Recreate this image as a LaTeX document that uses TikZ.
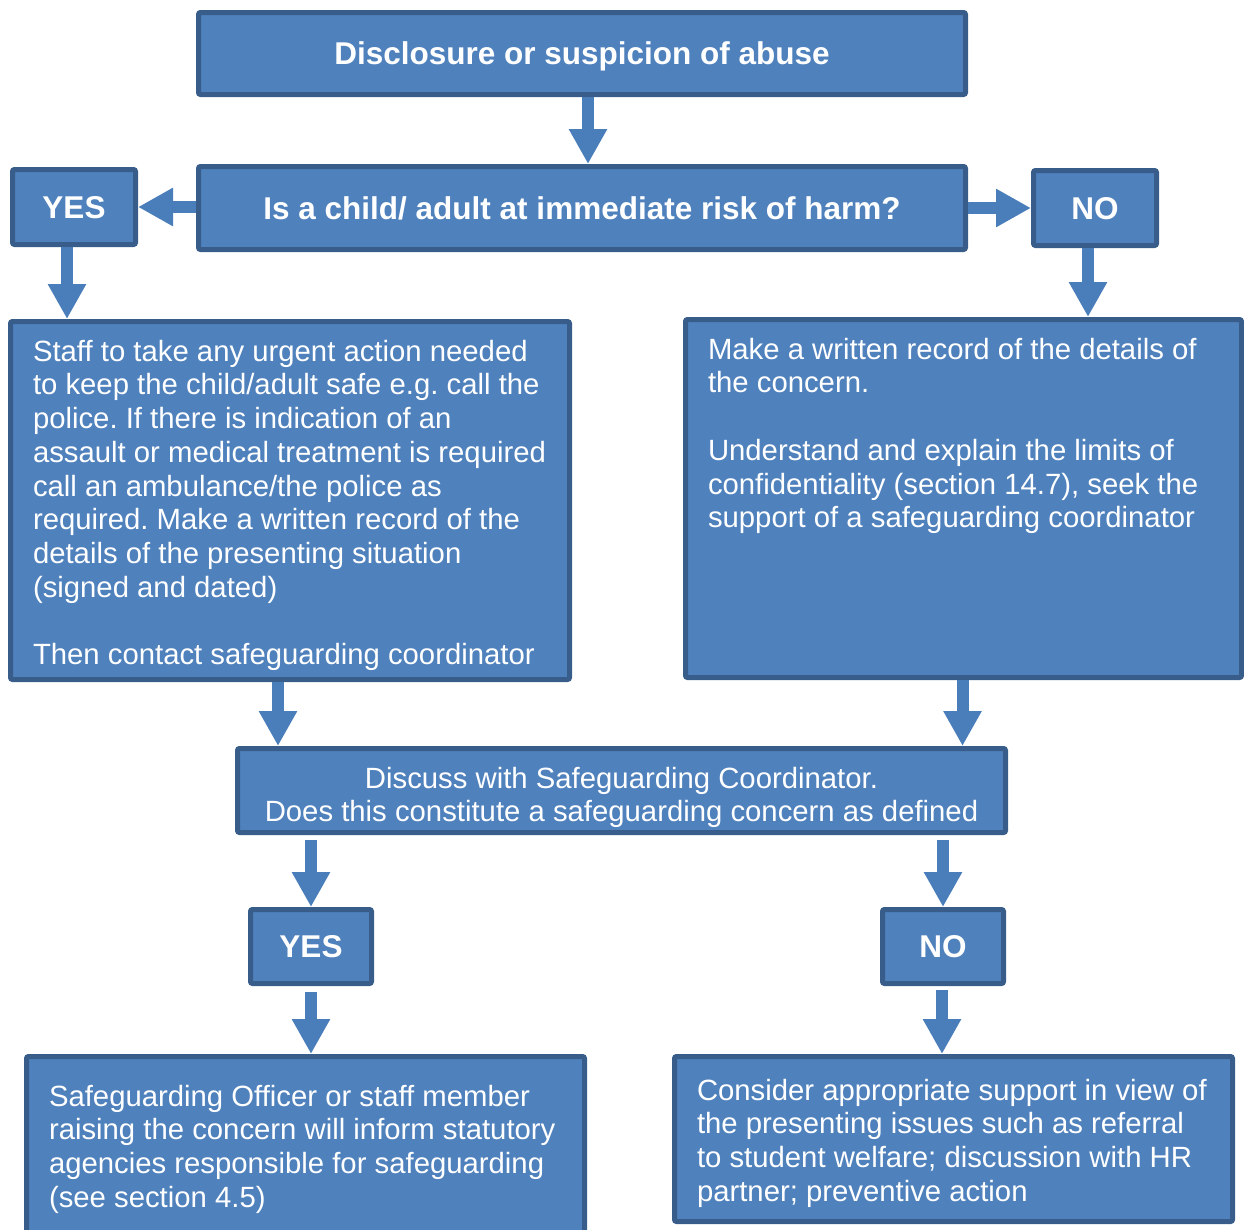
\documentclass[tikz,border=0pt]{standalone}
\usepackage{fontspec}
\setmainfont{Liberation Sans}
\usepackage{tikz}
\usetikzlibrary{arrows.meta}

\definecolor{boxfill}{HTML}{4F81BD}
\definecolor{boxline}{HTML}{385D8A}
\definecolor{arrowblue}{HTML}{4A7EBB}

\newcommand{\bodyfont}{\fontsize{29.3}{33.7}\selectfont\frenchspacing}
\newcommand{\headfont}{\fontsize{31.5}{36}\selectfont\bfseries}

\begin{document}
\begin{tikzpicture}[x=1pt, y=-1pt,
        box/.style={draw=boxline, line width=5pt, fill=boxfill, rounded corners=2pt,
            text=white, inner sep=0pt},
        headbox/.style={box, font=\headfont, text depth=0pt},
        body/.style={anchor=north west, inner sep=0pt, minimum width=0pt, minimum height=0pt,
            draw=none, fill=none, align=left, text=white, font=\bodyfont},
        flow/.style={draw=arrowblue, line width=12pt, -{Triangle[length=35pt, width=36pt]}}]
        \clip (0,0) rectangle (1244,1229);
        \useasboundingbox (0,0) rectangle (1244,1229);

        \node[headbox, minimum width=767pt, minimum height=82pt] (abuse) at (582,53.5) {Disclosure or suspicion of abuse};
        \node[headbox, minimum width=767pt, minimum height=83pt] (risk) at (582,208) {Is a child/ adult at immediate risk of harm?};
        \node[headbox, minimum width=123pt, minimum height=75pt] (yes1) at (74,207) {YES};
        \node[headbox, minimum width=123pt, minimum height=75pt] (no1) at (1095,208) {NO};

        \node[box, minimum width=559pt, minimum height=358pt,
            path picture={\node[body] at ([xshift=20pt,yshift=-16pt]path picture bounding box.north west)
            {Staff to take any urgent action needed\\ to keep the child/adult safe e.g. call the\\ police. If there is indication of an\\ assault or medical treatment is required\\ call an ambulance/the police as\\ required. Make a written record of the\\ details of the presenting situation\\ (signed and dated)\\[33.7pt] Then contact safeguarding coordinator};}] (urgent) at (290,500.5) {};
        \node[box, minimum width=556pt, minimum height=358pt,
            path picture={\node[body] at ([xshift=20pt,yshift=-16pt]path picture bounding box.north west)
            {Make a written record of the details of\\ the concern.\\[33.7pt] Understand and explain the limits of\\ confidentiality (section 14.7), seek the\\ support of a safeguarding coordinator};}] (record) at (963.5,498.5) {};

        \node[box, minimum width=768pt, minimum height=84pt,
            path picture={\node[body, anchor=north, align=center] at ([yshift=-16pt]path picture bounding box.north)
            {Discuss with Safeguarding Coordinator.\\ Does this constitute a safeguarding concern as defined};}] (discuss) at (621.5,790.5) {};

        \node[headbox, minimum width=121pt, minimum height=74pt] (yes2) at (311,946.5) {YES};
        \node[headbox, minimum width=121pt, minimum height=74pt] (no2) at (943,946.5) {NO};

        \node[box, minimum width=558pt, minimum height=186pt,
            path picture={\node[body] at ([xshift=20pt,yshift=-26pt]path picture bounding box.north west)
            {Safeguarding Officer or staff member\\ raising the concern will inform statutory\\ agencies responsible for safeguarding\\ (see section 4.5)};}] (inform) at (305.5,1149.5) {};
        \node[box, minimum width=558pt, minimum height=165pt,
            path picture={\node[body] at ([xshift=20pt,yshift=-20pt]path picture bounding box.north west)
            {Consider appropriate support in view of\\ the presenting issues such as referral\\ to student welfare; discussion with HR\\ partner; preventive action};}] (support) at (953.5,1139) {};

        \draw[flow] ([xshift=6pt]abuse.south) -- ([xshift=6pt]risk.north);
        \draw[flow] (risk.west |- yes1.east) -- (yes1.east);
        \draw[flow] (risk.east |- no1.west) -- (no1.west);
        \draw[flow] ([xshift=-7pt]yes1.south) -- ([xshift=-7pt]yes1.south |- urgent.north);
        \draw[flow] ([xshift=-7pt]no1.south) -- ([xshift=-7pt]no1.south |- record.north);
        \draw[flow] ([xshift=-12pt]urgent.south) -- ([xshift=-12pt]urgent.south |- discuss.north);
        \draw[flow] ([xshift=-1pt]record.south) -- ([xshift=-1pt]record.south |- discuss.north);
        \draw[flow] ([yshift=-5pt]yes2.north |- discuss.south) -- (yes2.north);
        \draw[flow] ([yshift=-5pt]no2.north |- discuss.south) -- (no2.north);
        \draw[flow] ([yshift=-6pt]yes2.south) -- (yes2.south |- inform.north);
        \draw[flow] ([yshift=-4pt,xshift=-1pt]no2.south) -- ([xshift=-1pt]no2.south |- support.north);
    \end{tikzpicture}
\end{document}
